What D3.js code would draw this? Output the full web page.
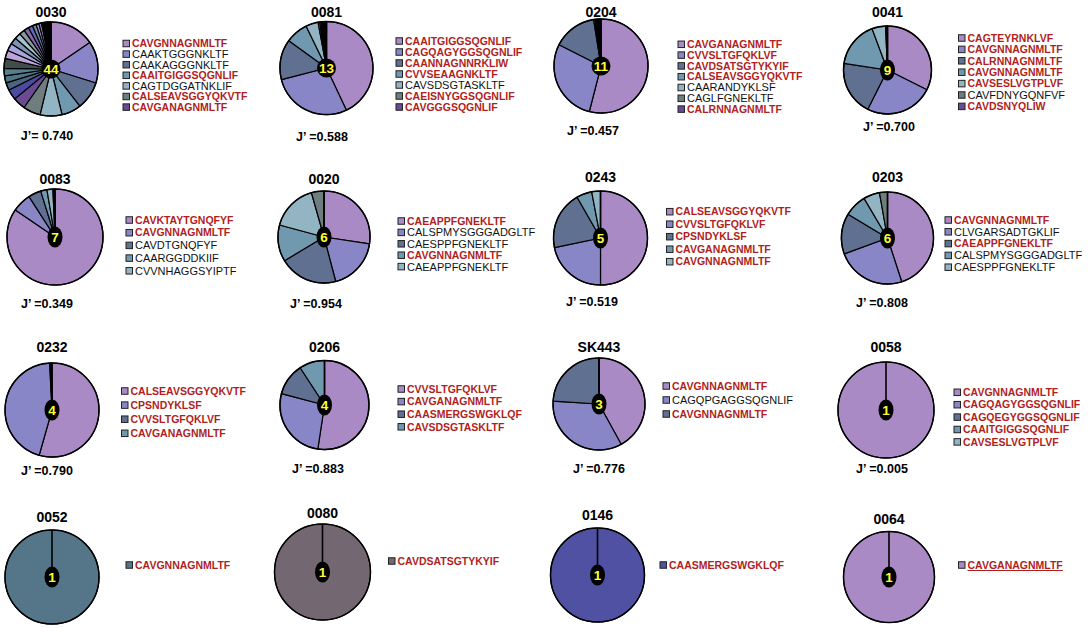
<!DOCTYPE html>
<html>
<head>
<meta charset="utf-8">
<script src="https://cdn.jsdelivr.net/npm/d3@7"></script>
<style>
  body { margin: 0; background: #fff; }
  text { font-family: Arial, "Liberation Sans", sans-serif; }
</style>
</head>
<body>
<svg id="chart" width="1091" height="632"></svg>
<script>
// ---- data ----
// panels, left to right then top to bottom
const panelNames = ['0030', '0081', '0204', '0041', '0083', '0020', '0243', '0203',
    '0232', '0206', 'SK443', '0058', '0052', '0080', '0146', '0064'];
const cloneCounts = [44, 13, 11, 9, 7, 6, 5, 6, 4, 4, 3, 1, 1, 1, 1, 1];
const evenness = [0.740, 0.588, 0.457, 0.700, 0.349, 0.954, 0.519, 0.808,
    0.790, 0.883, 0.776, 0.005, null, null, null, null];

// share of each clonotype (%), clockwise from 12 o'clock
const shares0030 = [15.5, 14.3, 9.7, 6.7, 7.5, 6.0, 4.3, 3.6,
    2.6, 2.4, 2.6, 3.4, 2.8, 2.6, 2.3, 2.1, 1.9, 1.7, 1.5, 1.3, 1.0, 0.9,
    0.2, 0.2, 0.18, 0.18, 0.16, 0.16, 0.15, 0.15, 0.15, 0.15, 0.14,
    0.14, 0.14, 0.14, 0.13, 0.13, 0.13, 0.13, 0.12, 0.12, 0.12, 0.12];
const shares0081 = [43, 28, 14, 7.8, 4.3, 0.6, 0.5, 0.4, 0.35, 0.3, 0.3, 0.25, 0.2];
const shares0204 = [54, 28.5, 15, 0.5, 0.4, 0.35, 0.3, 0.25, 0.25, 0.2, 0.25];
const shares0041 = [32.4, 25, 20, 16.9, 5, 0.25, 0.2, 0.15, 0.1];
const shares0083 = [84.5, 6.4, 4.3, 2.1, 2, 0.4, 0.3];
const shares0020 = [27.4, 18.5, 20.5, 12.8, 16.4, 4.4];
const shares0243 = [50, 21.7, 20, 5.3, 3];
const shares0203 = [45, 24.4, 14.2, 7.9, 5.7, 2.8];
const shares0232 = [54.4, 44.8, 0.4, 0.4];
const shares0206 = [52.4, 26.7, 11.7, 9.2];
const sharesSK443 = [42, 34, 24];
const sharesSingle = [100];

// legend entries and whether the clonotype is shared (red)
const legend0030 = ['CAVGNNAGNMLTF', 'CAAKTGGGNKLTF', 'CAAKAGGGNKLTF', 'CAAITGIGGSQGNLIF',
    'CAGTDGGATNKLIF', 'CALSEAVSGGYQKVTF', 'CAVGANAGNMLTF'];
const shared0030 = [1, 0, 0, 1, 0, 1, 1];
const legend0081 = ['CAAITGIGGSQGNLIF', 'CAGQAGYGGSQGNLIF', 'CAANNAGNNRKLIW', 'CVVSEAAGNKLTF',
    'CAVSDSGTASKLTF', 'CAEISNYGGSQGNLIF', 'CAVGGGSQGNLIF'];
const shared0081 = [1, 1, 1, 1, 0, 1, 1];
const legend0204 = ['CAVGANAGNMLTF', 'CVVSLTGFQKLVF', 'CAVDSATSGTYKYIF', 'CALSEAVSGGYQKVTF',
    'CAARANDYKLSF', 'CAGLFGNEKLTF', 'CALRNNAGNMLTF'];
const shared0204 = [1, 1, 1, 1, 0, 0, 1];
const legend0041 = ['CAGTEYRNKLVF', 'CAVGNNAGNMLTF', 'CALRNNAGNMLTF', 'CAVGNNAGNMLTF',
    'CAVSESLVGTPLVF', 'CAVFDNYGQNFVF', 'CAVDSNYQLIW'];
const shared0041 = [1, 1, 1, 1, 1, 0, 1];
const legend0083 = ['CAVKTAYTGNQFYF', 'CAVGNNAGNMLTF', 'CAVDTGNQFYF', 'CAARGGDDKIIF', 'CVVNHAGGSYIPTF'];
const shared0083 = [1, 1, 0, 0, 0];
const legend0020 = ['CAEAPPFGNEKLTF', 'CALSPMYSGGGADGLTF', 'CAESPPFGNEKLTF', 'CAVGNNAGNMLTF', 'CAEAPPFGNEKLTF'];
const shared0020 = [1, 0, 0, 1, 0];
const legend0243 = ['CALSEAVSGGYQKVTF', 'CVVSLTGFQKLVF', 'CPSNDYKLSF', 'CAVGANAGNMLTF', 'CAVGNNAGNMLTF'];
const shared0243 = [1, 1, 1, 1, 1];
const legend0203 = ['CAVGNNAGNMLTF', 'CLVGARSADTGKLIF', 'CAEAPPFGNEKLTF', 'CALSPMYSGGGADGLTF', 'CAESPPFGNEKLTF'];
const shared0203 = [1, 0, 1, 0, 0];
const legend0232 = ['CALSEAVSGGYQKVTF', 'CPSNDYKLSF', 'CVVSLTGFQKLVF', 'CAVGANAGNMLTF'];
const shared0232 = [1, 1, 1, 1];
const legend0206 = ['CVVSLTGFQKLVF', 'CAVGANAGNMLTF', 'CAASMERGSWGKLQF', 'CAVSDSGTASKLTF'];
const shared0206 = [1, 1, 1, 1];
const legendSK443 = ['CAVGNNAGNMLTF', 'CAGQPGAGGSQGNLIF', 'CAVGNNAGNMLTF'];
const sharedSK443 = [1, 0, 1];
const legend0058 = ['CAVGNNAGNMLTF', 'CAGQAGYGGSQGNLIF', 'CAGQEGYGGSQGNLIF', 'CAAITGIGGSQGNLIF', 'CAVSESLVGTPLVF'];
const shared0058 = [1, 1, 1, 1, 1];
const legend0052 = ['CAVGNNAGNMLTF'];
const legend0080 = ['CAVDSATSGTYKYIF'];
const legend0146 = ['CAASMERGSWGKLQF'];
const legend0064 = ['CAVGANAGNMLTF'];
const sharedOne = [1];

const sliceShares = [shares0030, shares0081, shares0204, shares0041, shares0083, shares0020,
    shares0243, shares0203, shares0232, shares0206, sharesSK443,
    sharesSingle, sharesSingle, sharesSingle, sharesSingle, sharesSingle];
const legendTexts = [legend0030, legend0081, legend0204, legend0041, legend0083, legend0020,
    legend0243, legend0203, legend0232, legend0206, legendSK443, legend0058,
    legend0052, legend0080, legend0146, legend0064];
const legendShared = [shared0030, shared0081, shared0204, shared0041, shared0083, shared0020,
    shared0243, shared0203, shared0232, shared0206, sharedSK443, shared0058,
    sharedOne, sharedOne, sharedOne, sharedOne];

// ---- styles & layout ----
const palette = ['#a98ac4', '#8886c6', '#5f7090', '#7099af', '#93b4c2', '#6e7e7e', '#6a4a92', '#4a4ba0',
    '#4a6580', '#4f7787', '#56808f', '#414c4d', '#bca4d8', '#a5a4dd', '#7f93b3', '#a3c3d3',
    '#8a9a9a', '#8466aa', '#6466b8', '#6a8aa0'];
const singleFill = {'0052': '#557589', '0080': '#736872', '0146': '#5151a3'};
const redText = '#b01e1e';

// cx, cy, r: pie; ty: title; jx, jy: J' label; lx, ly, lg: legend left, first line, line gap
const layout = [
    {cx: 51, cy: 69, r: 47, ty: 12, jx: 47, jy: 136, lx: 123, ly: 43.5, lg: 10.6},
    {cx: 326.5, cy: 68, r: 46.5, ty: 12, jx: 322, jy: 137, lx: 396, ly: 41, lg: 11},
    {cx: 601, cy: 66, r: 47, ty: 12, jx: 593, jy: 131, lx: 678, ly: 44.3, lg: 10.8},
    {cx: 887.5, cy: 70, r: 44, ty: 12, jx: 889, jy: 127, lx: 958.5, ly: 38, lg: 11.4},
    {cx: 55, cy: 237, r: 48, ty: 179, jx: 47, jy: 304, lx: 126, ly: 220, lg: 12.7},
    {cx: 324, cy: 237, r: 46, ty: 179, jx: 316, jy: 304, lx: 398, ly: 221, lg: 11.4},
    {cx: 600.5, cy: 238, r: 47, ty: 177, jx: 592, jy: 302, lx: 666.5, ly: 211.7, lg: 12.5},
    {cx: 887.5, cy: 238, r: 46, ty: 177, jx: 882, jy: 303, lx: 945, ly: 220, lg: 11.8},
    {cx: 52, cy: 410, r: 47, ty: 347, jx: 47, jy: 471, lx: 121.5, ly: 391, lg: 14.1},
    {cx: 324.5, cy: 405, r: 44.5, ty: 347, jx: 318, jy: 469, lx: 398, ly: 389, lg: 12.6},
    {cx: 599, cy: 404, r: 46, ty: 347, jx: 599, jy: 469, lx: 663, ly: 386, lg: 14},
    {cx: 886, cy: 410, r: 48, ty: 347, jx: 882, jy: 469, lx: 954, ly: 392.3, lg: 12.4},
    {cx: 52, cy: 577, r: 47, ty: 517, jx: 0, jy: 0, lx: 126, ly: 565, lg: 0},
    {cx: 322.5, cy: 572, r: 48, ty: 513, jx: 0, jy: 0, lx: 388.5, ly: 561, lg: 0},
    {cx: 597.5, cy: 575, r: 47, ty: 515, jx: 0, jy: 0, lx: 660, ly: 565, lg: 0},
    {cx: 889, cy: 577, r: 45.5, ty: 519, jx: 0, jy: 0, lx: 958.5, ly: 565, lg: 0}
];

const svg = d3.select('#chart');
const pie = d3.pie().sort(null).value(d => d);
const fmt = d3.format('.3f');

panelNames.forEach(function(name, i){
    const L = layout[i];
    const colorOf = j => singleFill[name] || palette[j % palette.length];
    const arc = d3.arc().innerRadius(0).outerRadius(L.r);

    // title
    svg.append('text')
        .attr('x', L.cx).attr('y', L.ty).attr('dy', '0.35em')
        .attr('text-anchor', 'middle')
        .attr('font-size', 14).attr('font-weight', 'bold')
        .text(name);

    const g = svg.append('g').attr('transform', 'translate(' + L.cx + ',' + L.cy + ')');
    g.selectAll('path.slice')
        .data(pie(sliceShares[i]))
        .join('path')
        .attr('class', 'slice')
        .attr('d', arc)
        .attr('fill', (d, j) => colorOf(j))
        .attr('stroke', '#000')
        .attr('stroke-width', 1.2)
        .attr('stroke-linejoin', 'round');
    g.append('circle')
        .attr('r', L.r).attr('fill', 'none')
        .attr('stroke', '#000').attr('stroke-width', 1.4);
    // radial edge at 12 o'clock (shows on one-slice pies too)
    g.append('line')
        .attr('x1', 0).attr('y1', 0).attr('x2', 0).attr('y2', -L.r)
        .attr('stroke', '#000').attr('stroke-width', 1.6);

    // centre badge with the number of clonotypes
    const label = String(cloneCounts[i]);
    g.append('ellipse')
        .attr('rx', label.length > 1 ? 9.5 : 7.5).attr('ry', label.length > 1 ? 9.5 : 10.5)
        .attr('fill', '#000');
    g.append('text')
        .attr('dy', '0.36em').attr('text-anchor', 'middle')
        .attr('font-size', 13.5).attr('font-weight', 'bold')
        .attr('fill', '#ffff33')
        .text(label);

    // evenness
    if(evenness[i] !== null){
        svg.append('text')
            .attr('x', L.jx).attr('y', L.jy).attr('dy', '0.35em')
            .attr('text-anchor', 'middle')
            .attr('font-size', 12.5).attr('font-weight', 'bold')
            .text((i === 0 ? 'J\u2019= ' : 'J\u2019 =') + fmt(evenness[i]));
    }

    // legend
    const lg = svg.append('g').attr('transform', 'translate(' + L.lx + ',' + L.ly + ')');
    legendTexts[i].forEach(function(t, j){
        const y = j * L.lg;
        lg.append('rect')
            .attr('x', 0).attr('y', y - 3.25).attr('width', 6.5).attr('height', 6.5)
            .attr('fill', colorOf(j))
            .attr('stroke', '#222').attr('stroke-width', 1);
        const red = legendShared[i][j] === 1;
        const txt = lg.append('text')
            .attr('x', 9).attr('y', y).attr('dy', '0.36em')
            .attr('font-size', red ? 10.5 : 11)
            .attr('font-weight', red ? 'bold' : 'normal')
            .attr('fill', red ? redText : '#111')
            .text(t);
        if(name === '0064'){
            const w = txt.node().getComputedTextLength();
            lg.append('line')
                .attr('x1', 9).attr('x2', 9 + w)
                .attr('y1', y + 5.5).attr('y2', y + 5.5)
                .attr('stroke', redText).attr('stroke-width', 1);
        }
    });
});
</script>
</body>
</html>
